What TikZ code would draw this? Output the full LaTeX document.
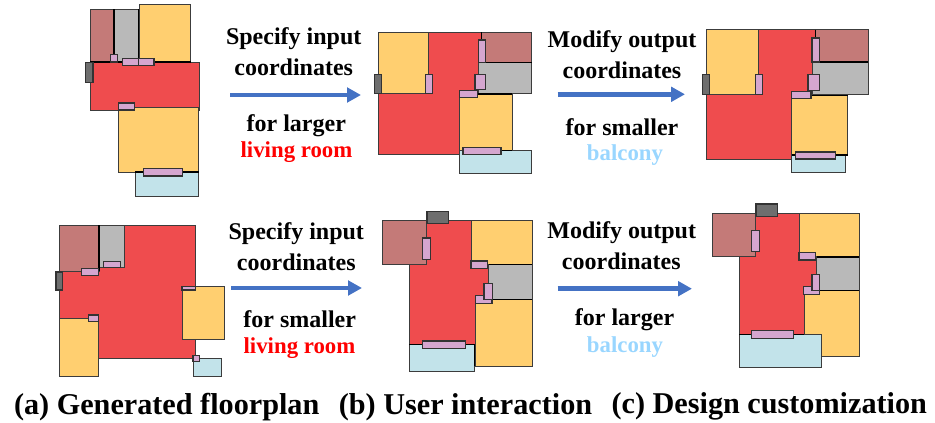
\documentclass[tikz,border=0pt]{standalone}
\usepackage{fontspec}
\setmainfont{Liberation Serif}
\usetikzlibrary{arrows.meta}
\definecolor{rred}{HTML}{EF4C4E}
\definecolor{ryel}{HTML}{FFCF70}
\definecolor{rbro}{HTML}{C47A78}
\definecolor{rgra}{HTML}{B9B9B9}
\definecolor{rblu}{HTML}{C2E3EA}
\definecolor{rpin}{HTML}{D5A6CF}
\definecolor{rdar}{HTML}{6E6E6E}
\definecolor{redge}{HTML}{3C3C3C}
\definecolor{arrowblue}{HTML}{4472C4}
\definecolor{balconytext}{HTML}{99D6FF}
\tikzset{
  room/.style={draw=redge,line width=1pt},
  living/.style={room,fill=rred},
  bedroom/.style={room,fill=ryel},
  bath/.style={room,fill=rbro},
  storage/.style={room,fill=rgra},
  balc/.style={room,fill=rblu},
  door/.style={room,draw=black!80,line width=1.1pt,fill=rpin},
  entry/.style={room,draw=black!80,line width=1.1pt,fill=rdar},
  wall/.style={draw=black,line width=1.5pt},
  flow/.style={draw=arrowblue,line width=4.6pt,-{Triangle[length=14pt,width=14.5pt]}},
  lab/.style={font=\bfseries\fontsize{24}{26}\selectfont,text=black,inner sep=0pt,anchor=center},
  labred/.style={font=\bfseries\fontsize{22.8}{25}\selectfont,text=red,inner sep=0pt,anchor=center},
  labblue/.style={font=\bfseries\fontsize{22.8}{25}\selectfont,text=balconytext,inner sep=0pt,anchor=center},
  captiontext/.style={font=\bfseries\fontsize{30.2}{32}\selectfont,text=black,inner sep=0pt,anchor=center}
}
\begin{document}
\begin{tikzpicture}[x=1pt,y=-1pt]
\useasboundingbox (0,0) rectangle (935,423);
% --- panel a, row 1
\draw[living] (90,62) rectangle (199,110);
\draw[bath] (90,9) rectangle (114,62);
\draw[storage] (114,9) rectangle (138.7,62);
\draw[bedroom] (139.3,4.7) rectangle (190.7,62);
\draw[bedroom] (118.7,107) rectangle (198.7,172);
\draw[balc] (135,172) rectangle (198.7,196.7);
\draw[wall] (114,9)--(114,62) (138.7,9)--(138.7,62) (90,62)--(190.7,62) (135,172)--(198.7,172);
\draw[entry] (85.7,62.3) rectangle (93,82.3);
\draw[door] (110.3,54.3) rectangle (117.7,62);
\draw[door] (122.7,58.7) rectangle (138.7,65.7);
\draw[door] (138.7,58.7) rectangle (154,65.7);
\draw[door] (118.7,103) rectangle (134.3,110);
\draw[door] (143.3,168.7) rectangle (182.7,176);
% --- panel b, row 1
\draw[living] (378.3,32.3)--(481.7,32.3)--(481.7,93.3)--(459.3,93.3)--(459.3,154.3)--(378.3,154.3)--cycle;
\draw[bedroom] (378.3,32.3) rectangle (428,93.3);
\draw[bath] (481.7,32.3) rectangle (531.7,62.7);
\draw[storage] (478.3,62.7) rectangle (531.7,93.3);
\draw[bedroom] (459.3,94) rectangle (512.3,150.7);
\draw[balc] (459,150.7) rectangle (531.7,173.7);
\draw[wall] (481.7,32.3)--(481.7,62.7) (478.3,62.7)--(531.7,62.7) (459.3,94)--(512.3,94) (463,150.7)--(512.3,150.7);
\draw[entry] (374.7,74.7) rectangle (381.7,93.3);
\draw[door] (425.3,74.7) rectangle (432.3,93.3);
\draw[door] (478.3,40) rectangle (485.3,62.7);
\draw[door] (475,74.7) rectangle (485.3,89.3);
\draw[door] (459.3,90.3) rectangle (477.7,97.3);
\draw[door] (463,147.3) rectangle (501,154.3);
% --- panel c, row 1
\draw[living] (706,29.7)--(815.7,29.7)--(815.7,94.3)--(791.7,94.3)--(791.7,159)--(706,159)--cycle;
\draw[bedroom] (706,29.7) rectangle (758.3,94.3);
\draw[bath] (815.7,29.7) rectangle (868.3,62);
\draw[storage] (812,62) rectangle (868.3,94.3);
\draw[bedroom] (791.7,95.3) rectangle (847.7,155);
\draw[balc] (791.7,155) rectangle (845,172.7);
\draw[wall] (815.7,29.7)--(815.7,62) (812,62)--(868.3,62) (791.7,95.3)--(847.7,95.3) (791.7,155)--(847.7,155);
\draw[entry] (702.3,74.7) rectangle (709.7,94.3);
\draw[door] (755.3,74.7) rectangle (762.7,94.3);
\draw[door] (812,38) rectangle (819.3,62);
\draw[door] (808,74.7) rectangle (819.3,90.3);
\draw[door] (791.7,91.3) rectangle (811,98.7);
\draw[door] (795.7,152) rectangle (835.7,159);
% --- panel a, row 2
\draw[living] (59.7,225) rectangle (195.7,358);
\draw[bath] (59.7,225) rectangle (99,271.3);
\draw[storage] (99,225) rectangle (124,267.7);
\draw[bedroom] (59.7,318.7) rectangle (98.7,376.3);
\draw[bedroom] (182,286.7) rectangle (224.7,339.7);
\draw[balc] (193.3,358.7) rectangle (221.3,376.3);
\draw[wall] (99,225)--(99,271.3);
\draw[entry] (56,272) rectangle (62.7,290);
\draw[door] (81.3,268.3) rectangle (98.7,275.3);
\draw[door] (103.3,261.7) rectangle (120.7,267.7);
\draw[door] (88.3,315) rectangle (98.7,321.7);
\draw[door] (182,286.7) rectangle (195.7,290);
\draw[door] (193,355.3) rectangle (199.7,361.7);
% --- panel b, row 2
\draw[living] (409.3,220)--(471,220)--(471,264.3)--(488.7,264.3)--(488.7,295)--(475.3,295)--(475.3,344)--(409.3,344)--cycle;
\draw[bath] (382,220) rectangle (426,264.3);
\draw[bedroom] (471,220) rectangle (532.3,264.3);
\draw[storage] (488.7,264.3) rectangle (532.3,299.7);
\draw[bedroom] (475.3,299.7) rectangle (532.3,366.3);
\draw[balc] (409.3,344.3) rectangle (474.3,371);
\draw[wall] (488.7,264.3)--(532.3,264.3) (488.7,299.7)--(532.3,299.7) (409.3,344.3)--(474.3,344.3) (474.3,344.3)--(474.3,366);
\draw[entry] (427,211.3) rectangle (448.7,223.3);
\draw[door] (422.3,238) rectangle (430.7,259.7);
\draw[door] (471,261) rectangle (487.7,268.3);
\draw[door] (475.3,295.3) rectangle (492,303.3);
\draw[door] (484,283.3) rectangle (492.3,299.3);
\draw[door] (422.3,341) rectangle (465.7,348.3);
% --- panel c, row 2
\draw[living] (739,213)--(799,213)--(799,256)--(816.7,256)--(816.7,286.7)--(804,286.7)--(804,334.7)--(739,334.7)--cycle;
\draw[bath] (712.3,213) rectangle (755.3,256);
\draw[bedroom] (799,213) rectangle (859,256);
\draw[storage] (816.7,257) rectangle (859,290.3);
\draw[bedroom] (804,290.3) rectangle (859,356);
\draw[balc] (739,334.7) rectangle (821,367);
\draw[wall] (816.7,257)--(859,257) (816.7,290.3)--(859,290.3) (739,334.7)--(804,334.7);
\draw[entry] (756,204) rectangle (777.3,216.3);
\draw[door] (751.7,230.7) rectangle (759.7,251.7);
\draw[door] (799,252.7) rectangle (815.3,260);
\draw[door] (803.7,286.7) rectangle (819.7,294.3);
\draw[door] (812,274.7) rectangle (819.7,290.3);
\draw[door] (751.7,330.7) rectangle (793.7,338.7);
% --- arrows
\coordinate (a1) at (230,95); \coordinate (b1) at (361,95);
\coordinate (a2) at (557.7,94.3); \coordinate (b2) at (685,94.3);
\coordinate (a3) at (231,288); \coordinate (b3) at (362,288);
\coordinate (a4) at (557.7,288.7); \coordinate (b4) at (692,288.7);
\draw[flow] (a1)--(b1);
\draw[flow] (a2)--(b2);
\draw[flow] (a3)--(b3);
\draw[flow] (a4)--(b4);
% --- labels
\node[lab] (t1) at (293.7,38.5) {Specify input};
\node[lab] (t2) at (293.7,67) {coordinates};
\node[lab] (t3) at (296.3,125.5) {for larger};
\node[labred] (t4) at (296.5,152) {living room};
\node[lab] (t5) at (622,41.3) {Modify output};
\node[lab] (t6) at (622,70) {coordinates};
\node[lab] (t7) at (622,127) {for smaller};
\node[labblue] (t8) at (625,155.5) {balcony};
\node[lab] (t9) at (296.3,233.7) {Specify input};
\node[lab] (t10) at (296.3,262) {coordinates};
\node[lab] (t11) at (299.7,319.5) {for smaller};
\node[labred] (t12) at (299.5,347.8) {living room};
\node[lab] (t13) at (621.7,232.5) {Modify output};
\node[lab] (t14) at (621.3,261) {coordinates};
\node[lab] (t15) at (624.5,319.8) {for larger};
\node[labblue] (t16) at (625,347) {balcony};
\node[captiontext] (c1) at (166.7,407.5) {(a) Generated floorplan};
\node[captiontext] (c2) at (465.5,407.5) {(b) User interaction};
\node[captiontext] (c3) at (769.3,406) {(c) Design customization};
\end{tikzpicture}
\end{document}
